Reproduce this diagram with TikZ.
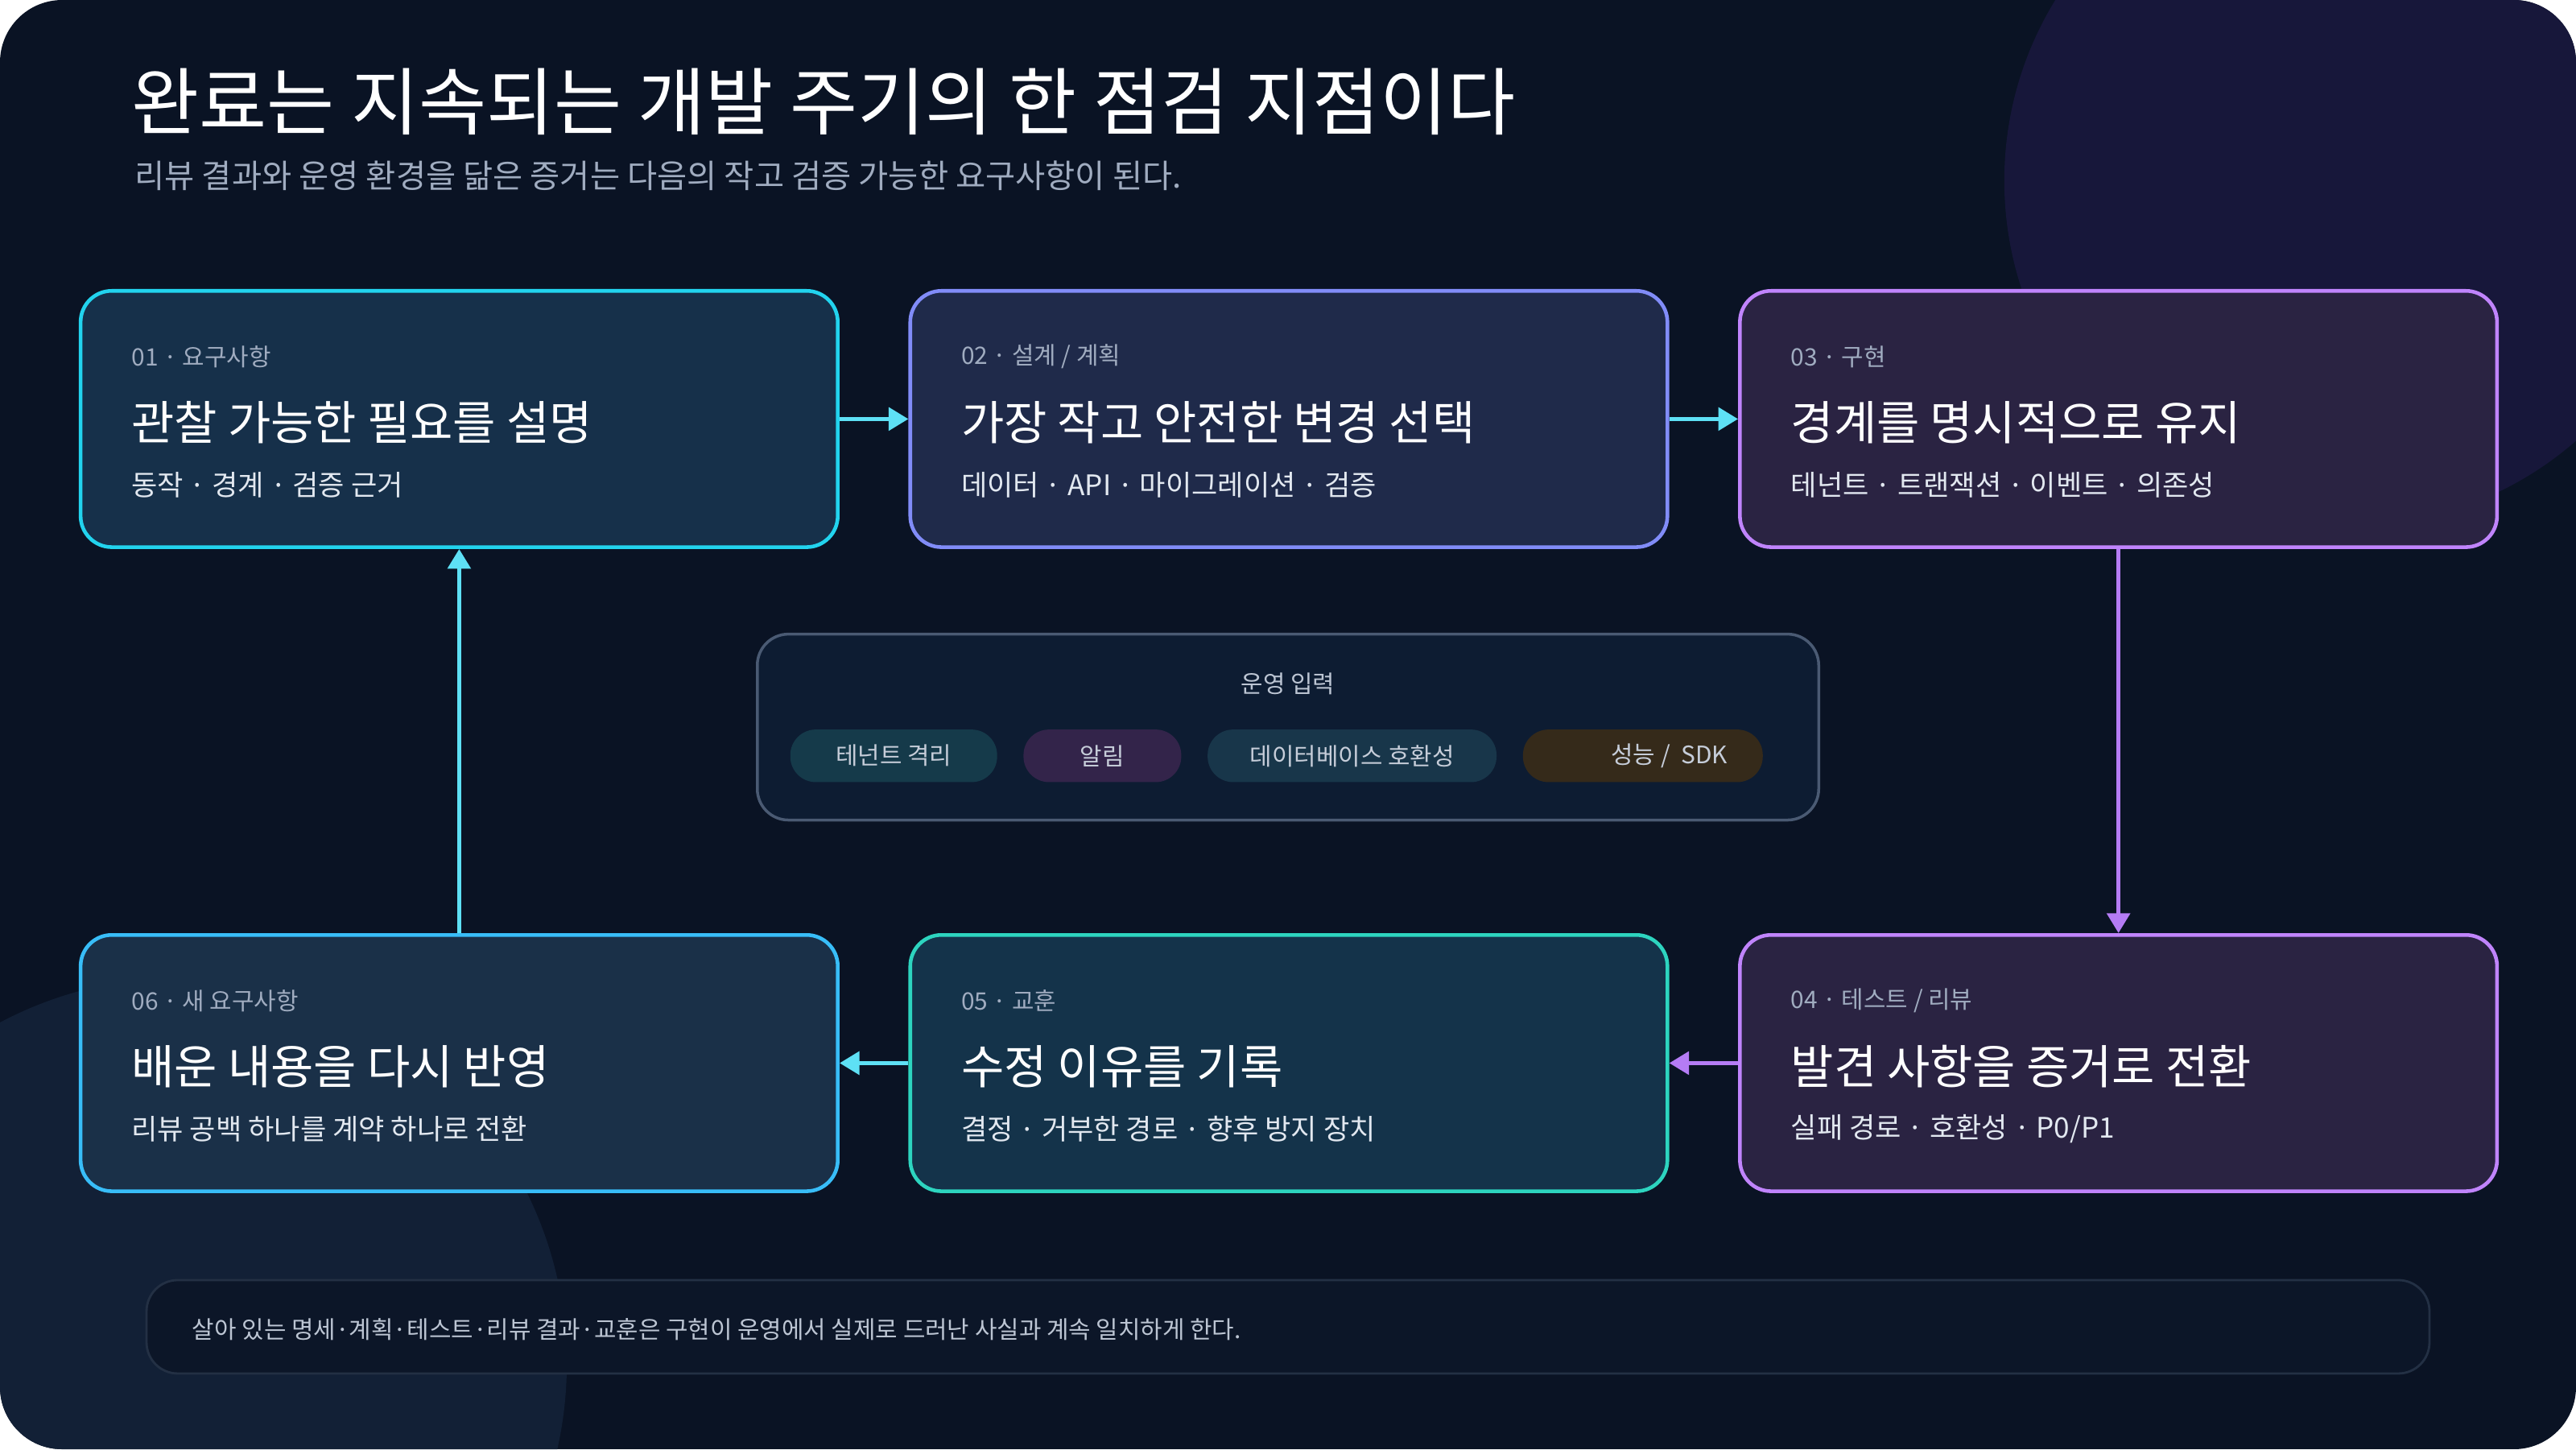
\documentclass[tikz,border=0pt]{standalone}
\usepackage{fontspec}
\setmainfont{Noto Sans CJK KR}
\usetikzlibrary{arrows.meta}
\definecolor{bg}{HTML}{0A1324}
\definecolor{glowA}{HTML}{17173A}
\definecolor{glowB}{HTML}{122036}
\definecolor{muted}{HTML}{A0ACC0}
\definecolor{subc}{HTML}{E2E8F0}
\definecolor{cyanB}{HTML}{22D3EE}
\definecolor{cyanF}{HTML}{16304A}
\definecolor{indB}{HTML}{818CF8}
\definecolor{indF}{HTML}{1F2A4A}
\definecolor{purB}{HTML}{C084FC}
\definecolor{purF}{HTML}{2A2342}
\definecolor{tealB}{HTML}{2DD4BF}
\definecolor{tealF}{HTML}{14334A}
\definecolor{skyB}{HTML}{38BDF8}
\definecolor{skyF}{HTML}{1A3048}
\definecolor{arrC}{HTML}{5EE0F5}
\definecolor{arrP}{HTML}{B57CF5}
\definecolor{midB}{HTML}{4A5A73}
\definecolor{midF}{HTML}{0D1C32}
\definecolor{chA}{HTML}{153A4A}
\definecolor{chB}{HTML}{33244A}
\definecolor{chC}{HTML}{18364A}
\definecolor{chD}{HTML}{352A1A}
\definecolor{footF}{HTML}{0C1628}
\definecolor{footB}{HTML}{233044}
\begin{document}
\begin{tikzpicture}[x=0.02041cm,y=-0.02041cm,
 card/.style={draw=#1,line width=1.3pt,rounded corners=11pt,minimum width=9.409cm,minimum height=3.184cm,inner sep=0pt},
 lab/.style={anchor=west,text=muted,font=\fontsize{8.5}{10}\selectfont},
 ttl/.style={anchor=west,text=white,font=\fontsize{16.5}{19}\selectfont},
 sub/.style={anchor=west,text=subc,font=\fontsize{10}{12}\selectfont},
 chip/.style={fill=#1,rounded corners=9pt,minimum height=0.653cm,inner sep=0pt,text=muted!60!white,font=\fontsize{8.5}{10}\selectfont},
 arr/.style={line width=1.6pt,-{Triangle[length=7pt,width=8pt]}}]
\begin{scope}
\clip[rounded corners=22pt] (0,0) rectangle (1568,882);
\fill[bg] (0,0) rectangle (1568,882);
\fill[glowA] (1430,110) circle (210);
\fill[glowB] (110,830) circle (235);
\end{scope}
\useasboundingbox (0,0) rectangle (1568,882);
\node[anchor=west,text=white,font=\fontsize{26}{30}\selectfont] (title) at (74,62) {완료는 지속되는 개발 주기의 한 점검 지점이다};
\node[anchor=west,text=muted,font=\fontsize{11.5}{14}\selectfont] (subt) at (76,107) {리뷰 결과와 운영 환경을 닮은 증거는 다음의 작고 검증 가능한 요구사항이 된다.};
% cards
\node[card=cyanB,fill=cyanF] (c1) at (279.5,255) {};
\node[card=indB,fill=indF] (c2) at (784.5,255) {};
\node[card=purB,fill=purF] (c3) at (1289.5,255) {};
\node[card=purB,fill=purF] (c4) at (1289.5,647) {};
\node[card=tealB,fill=tealF] (c5) at (784.5,647) {};
\node[card=skyB,fill=skyF] (c6) at (279.5,647) {};
\node[lab] (l1) at (74,217) {01 · 요구사항};
\node[ttl] (t1) at (74,257) {관찰 가능한 필요를 설명};
\node[sub] (s1) at (74,295) {동작 · 경계 · 검증 근거};
\node[lab] (l2) at (579,217) {02 · 설계 / 계획};
\node[ttl] (t2) at (579,257) {가장 작고 안전한 변경 선택};
\node[sub] (s2) at (579,295) {데이터 · API · 마이그레이션 · 검증};
\node[lab] (l3) at (1084,217) {03 · 구현};
\node[ttl] (t3) at (1084,257) {경계를 명시적으로 유지};
\node[sub] (s3) at (1084,295) {테넌트 · 트랜잭션 · 이벤트 · 의존성};
\node[lab] (l4) at (1084,609) {04 · 테스트 / 리뷰};
\node[ttl] (t4) at (1084,649) {발견 사항을 증거로 전환};
\node[sub] (s4) at (1084,687) {실패 경로 · 호환성 · P0/P1};
\node[lab] (l5) at (579,609) {05 · 교훈};
\node[ttl] (t5) at (579,649) {수정 이유를 기록};
\node[sub] (s5) at (579,687) {결정 · 거부한 경로 · 향후 방지 장치};
\node[lab] (l6) at (74,609) {06 · 새 요구사항};
\node[ttl] (t6) at (74,649) {배운 내용을 다시 반영};
\node[sub] (s6) at (74,687) {리뷰 공백 하나를 계약 하나로 전환};
% arrows
\draw[arr,arrC] (c1.east) -- (c2.west);
\draw[arr,arrC] (c2.east) -- (c3.west);
\draw[arr,arrP] (c3.south) -- (c4.north);
\draw[arr,arrP] (c4.west) -- (c5.east);
\draw[arr,arrC] (c5.west) -- (c6.east);
\draw[arr,arrC] (c6.north) -- (c1.south);
% middle
\node[draw=midB,fill=midF,line width=1pt,rounded corners=11pt,minimum width=13.19cm,minimum height=2.31cm] (mid) at (784,442.5) {};
\node[text=muted!70!white,font=\fontsize{8.5}{10}\selectfont] (midt) at (784,416) {운영 입력};
\node[chip=chA,minimum width=2.57cm] (ch1) at (544,460) {테넌트 격리};
\node[chip=chB,minimum width=1.96cm] (ch2) at (671,460) {알림};
\node[chip=chC,minimum width=3.59cm] (ch3) at (823,460) {데이터베이스 호환성};
\node[chip=chD,minimum width=2.98cm] (ch4) at (1000,460) {\hspace{2.2em}성능 /\ \ SDK};
% footer
\node[draw=footB,fill=footF,line width=0.8pt,rounded corners=11pt,minimum width=28.37cm,minimum height=1.16cm] (foot) at (784,807.5) {};
\node[anchor=west,text=muted!70!white,font=\fontsize{8.5}{10}\selectfont] (foott) at (111,809) {살아 있는 명세·계획·테스트·리뷰 결과·교훈은 구현이 운영에서 실제로 드러난 사실과 계속 일치하게 한다.};
\end{tikzpicture}
\end{document}
